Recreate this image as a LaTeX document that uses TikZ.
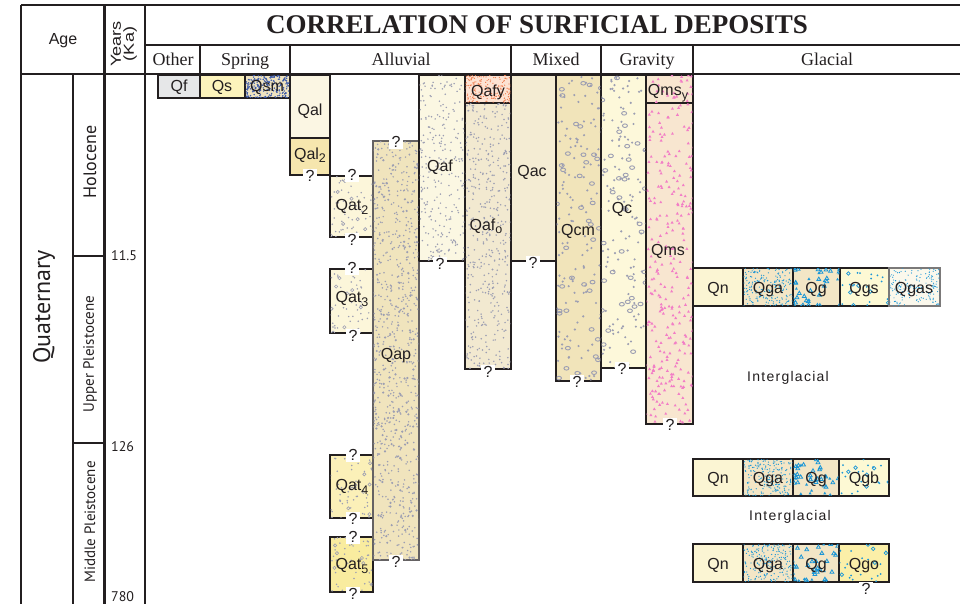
\documentclass[tikz,border=0pt]{standalone}
\usepackage{fontspec}
\setmainfont{Liberation Serif}
\setsansfont{Liberation Sans}
\newfontfamily\myr{PT Sans}
\definecolor{ink}{HTML}{231F20}
\definecolor{cQf}{HTML}{E6E7E8}
\definecolor{cQs}{HTML}{FCF3BC}
\definecolor{cQsm}{HTML}{EFE3C0}
\definecolor{cQal}{HTML}{FBF6E3}
\definecolor{cQalb}{HTML}{F6E6AE}
\definecolor{cQat}{HTML}{FCF6DA}
\definecolor{cQatf}{HTML}{FBF0B8}
\definecolor{cQatv}{HTML}{F9EC9F}
\definecolor{cQap}{HTML}{F0E4BD}
\definecolor{cQaf}{HTML}{FBF7E2}
\definecolor{cQafy}{HTML}{FDE3D3}
\definecolor{cQafo}{HTML}{F2E9D0}
\definecolor{cQac}{HTML}{F4ECD3}
\definecolor{cQcm}{HTML}{F1E4BA}
\definecolor{cQc}{HTML}{FDF8DA}
\definecolor{cQms}{HTML}{F8E6D0}
\definecolor{cQn}{HTML}{FBF5D3}
\definecolor{cQga}{HTML}{F3E6C6}
\definecolor{cQgs}{HTML}{FDF9D4}
\definecolor{cQgas}{HTML}{FBF8EC}
\definecolor{cQgo}{HTML}{FBEFA8}
\definecolor{dotg}{HTML}{9C9EB2}
\definecolor{gblue}{HTML}{1B96D6}
\definecolor{navy}{HTML}{3D5BA9}
\definecolor{orng}{HTML}{EE7D4F}
\definecolor{pinkt}{HTML}{F27DC6}
\newdimen\spxa \newdimen\spya \newdimen\spxb \newdimen\spyb
% node, count per 100 px^2, path style, path tail
\newcommand\speck[4]{%
 \pgfextractx{\spxa}{\pgfpointanchor{#1}{south west}}%
 \pgfextracty{\spya}{\pgfpointanchor{#1}{south west}}%
 \pgfextractx{\spxb}{\pgfpointanchor{#1}{north east}}%
 \pgfextracty{\spyb}{\pgfpointanchor{#1}{north east}}%
 \begin{scope}
 \clip (\spxa+0.6pt,\spya+0.6pt) rectangle (\spxb-0.6pt,\spyb-0.6pt);
 \pgfmathtruncatemacro\spn{((\spxb-\spxa)/10)*((\spyb-\spya)/10)*#2}%
 \foreach \k in {1,...,\spn}{%
   \pgfmathsetmacro\spx{\spxa+rnd*(\spxb-\spxa)}%
   \pgfmathsetmacro\spy{\spya+rnd*(\spyb-\spya)}%
   \path[#3] (\spx pt,\spy pt) #4;
 }%
 \end{scope}}
\newcommand\dep[6]{\node[box, minimum width={#4-#2}, minimum height={#5-#3}, #6] (#1) at ({(#2+#4)/2},{(#3+#5)/2}) {};}
\newcommand\lsub[1]{\raisebox{-0.4ex}{\fontsize{12.5}{12.5}\selectfont #1}}
\newcommand\sdot{circle[radius=0.85pt]}
\newcommand\bdot{circle[radius=1.2pt]}
\newcommand\ring{ellipse[x radius=2.5pt, y radius=1.8pt]}
\newcommand\sring{circle[radius=1.6pt]}
\newcommand\tri{++(0,1.6pt) -- ++(-1.5pt,-2.6pt) -- ++(3pt,0) -- cycle}
\newcommand\btri{++(0,2.1pt) -- ++(-1.9pt,-3.3pt) -- ++(3.8pt,0) -- cycle}
\begin{document}
\begin{tikzpicture}[x=1pt,y=-1pt,
  box/.style={draw=ink, line width=1.1pt, inner sep=0pt, outer sep=0pt},
  frame/.style={draw=ink, line width=1.6pt},
  lab/.style={font=\fontsize{16}{16}\selectfont\sffamily, text=ink, inner sep=0pt},
  qm/.style={fill=white, font=\fontsize{16}{16}\selectfont\sffamily, text=ink, inner sep=0.5pt, minimum width=14pt, minimum height=14pt},
  cat/.style={font=\fontsize{18}{18}\selectfont\rmfamily, text=ink, inner sep=0pt, anchor=base},
  era/.style={font=\myr, text=ink, rotate=90, inner sep=0pt},
  num/.style={font=\myr\fontsize{14}{14}\selectfont, text=ink, inner sep=0pt, anchor=west},
  igl/.style={font=\sffamily\addfontfeatures{LetterSpace=9}\fontsize{14}{14}\selectfont, text=ink, inner sep=0pt}]
\useasboundingbox (0,0) rectangle (960,604);
\fill[white] (0,0) rectangle (960,604);
\pgfmathsetseed{4242}

% ---------- deposit boxes ----------
\dep{Qf}{158}{75}{200}{98}{fill=cQf}
\dep{Qs}{200}{75}{245}{98}{fill=cQs}
\dep{Qsm}{245}{75}{290}{98}{fill=cQsm}
\dep{Qal}{290}{75}{330}{138}{fill=cQal}
\dep{Qalb}{290}{138}{330}{175}{fill=cQalb}
\dep{Qatb}{330}{176}{373}{237}{fill=cQat}
\dep{Qatc}{330}{269}{373}{333}{fill=cQat}
\dep{Qatd}{330}{455}{373}{518}{fill=cQatf}
\dep{Qate}{330}{537}{373}{592}{fill=cQatv}
\dep{Qap}{373}{141}{419}{560}{fill=cQap, draw=ink!70}
\dep{Qaf}{419}{75}{465}{261}{fill=cQaf}
\dep{Qafy}{465}{75}{511}{103}{fill=cQafy}
\dep{Qafo}{465}{103}{511}{369}{fill=cQafo}
\dep{Qac}{511}{75}{556}{261}{fill=cQac}
\dep{Qcm}{556}{75}{601}{381}{fill=cQcm}
\dep{Qc}{601}{75}{646}{368}{fill=cQc}
\dep{Qmsy}{646}{75}{693}{103}{fill=cQms}
\dep{Qms}{646}{103}{693}{424}{fill=cQms}
% glacial rows
\dep{Qna}{693}{268}{743}{306}{fill=cQn}
\dep{Qgaa}{743}{268}{793}{306}{fill=cQga}
\dep{Qgga}{793}{268}{840}{306}{fill=cQga}
\dep{Qgs}{840}{268}{889}{306}{fill=cQgs}
\dep{Qgas}{889}{268}{940}{306}{fill=cQgas, draw=ink!60}
\dep{Qnb}{693}{459}{743}{496}{fill=cQn}
\dep{Qgab}{743}{459}{793}{496}{fill=cQga}
\dep{Qggb}{793}{459}{839}{496}{fill=cQga}
\dep{Qgb}{839}{459}{889}{496}{fill=cQgs}
\dep{Qnc}{693}{544}{743}{582}{fill=cQn}
\dep{Qgac}{743}{544}{793}{582}{fill=cQga}
\dep{Qggc}{793}{544}{839}{582}{fill=cQga}
\dep{Qgo}{839}{544}{889}{582}{fill=cQgo}

% ---------- textures ----------
\speck{Qsm}{22}{fill=navy}{circle[radius=0.8pt]}
\speck{Qafy}{14}{fill=orng}{circle[radius=0.65pt]}
\foreach \g in {Qatb,Qatc,Qatd,Qate}{\speck{\g}{1.8}{fill=dotg}{\sdot}\speck{\g}{0.3}{draw=dotg, line width=0.6pt}{\sring}}
\speck{Qap}{3.6}{fill=dotg}{\sdot}
\speck{Qap}{0.6}{fill=dotg}{\bdot}
\speck{Qaf}{3}{fill=dotg}{\sdot}
\speck{Qafo}{3.6}{fill=dotg}{\sdot}
\speck{Qcm}{0.9}{fill=dotg}{\bdot}
\speck{Qcm}{0.3}{draw=dotg, line width=0.9pt}{\ring}
\speck{Qc}{0.9}{fill=dotg}{\bdot}
\speck{Qc}{0.3}{draw=dotg, line width=0.9pt}{\ring}
\speck{Qmsy}{1.8}{fill=pinkt}{\tri}
\speck{Qms}{1.8}{fill=pinkt}{\tri}
\foreach \g in {Qgaa,Qgab,Qgac}{\speck{\g}{11}{fill=gblue}{circle[radius=0.65pt]}}
\foreach \g in {Qgga,Qggb,Qggc}{\speck{\g}{1.6}{draw=gblue, line width=0.8pt}{\btri}\speck{\g}{0.6}{fill=gblue}{\tri}}
\foreach \g in {Qgs,Qgb,Qgo}{\speck{\g}{0.9}{fill=gblue}{circle[radius=1pt]}\speck{\g}{0.35}{draw=gblue, line width=0.7pt}{circle[radius=1.8pt]}}
\speck{Qgas}{9}{fill=gblue}{circle[radius=0.6pt]}

% ---------- labels ----------
\node[lab] (lQf) at (179,87) {Qf};
\node[lab] (lQs) at (222,87) {Qs};
\node[lab] (lQsm) at (267,87) {Qsm};
\node[lab] (lQal) at (310,111) {Qal};
\node[lab] (lQalb) at (310,155) {Qal\lsub{2}};
\node[lab] (lQatb) at (352,207) {Qat\lsub{2}};
\node[lab] (lQatc) at (352,299) {Qat\lsub{3}};
\node[lab] (lQatd) at (352,487) {Qat\lsub{4}};
\node[lab] (lQate) at (352,566) {Qat\lsub{5}};
\node[lab] (lQap) at (396,356) {Qap};
\node[lab] (lQaf) at (440,167) {Qaf};
\node[lab, anchor=base] (lQafy) at (488,97) {Qafy};
\node[lab] (lQafo) at (486,226) {Qaf\lsub{o}};
\node[lab] (lQac) at (532,172) {Qac};
\node[lab] (lQcm) at (578,231) {Qcm};
\node[lab] (lQc) at (622,209) {Qc};
\node[lab, anchor=base] (lQmsy) at (668,96) {Qms\lsub{y}};
\node[lab] (lQms) at (668,251) {Qms};
\foreach \r/\y in {a/293,b/483,c/569}{
  \node[lab, anchor=base] (lQn\r) at (718,\y) {Qn};
  \node[lab, anchor=base] (lQga\r) at (768,\y) {Qga};
  \node[lab, anchor=base] (lQg\r) at (816,\y) {Qg};
}
\node[lab, anchor=base] (lQgs) at (864,293) {Qgs};
\node[lab, anchor=base] (lQgas) at (914,293) {Qgas};
\node[lab, anchor=base] (lQgb) at (864,483) {Qgb};
\node[lab, anchor=base] (lQgo) at (864,569) {Qgo};
\node[igl] (ig1) at (788,378) {Interglacial};
\node[igl] (ig2) at (790,517) {Interglacial};

% ---------- question marks ----------
\node[qm] (q1) at (310,176) {?};
\node[qm] (q2) at (352,175) {?};
\node[qm] (q3) at (352,240) {?};
\node[qm] (q4) at (396,142) {?};
\node[qm] (q5) at (440,264) {?};
\node[qm] (q6) at (352,268) {?};
\node[qm] (q7) at (353,336) {?};
\node[qm] (q8) at (488,372) {?};
\node[qm] (q9) at (533,263) {?};
\node[qm] (q10) at (577,382) {?};
\node[qm] (q11) at (622,369) {?};
\node[qm] (q12) at (670,425) {?};
\node[qm] (q13) at (353,455) {?};
\node[qm] (q14) at (353,519) {?};
\node[qm] (q15) at (353,537) {?};
\node[qm] (q16) at (353,594) {?};
\node[qm] (q17) at (396,562) {?};
\node[qm] (q18) at (866,589) {?};

% ---------- frame ----------
\draw[frame] (21,5) -- (960,5);
\draw[frame] (145,45) -- (960,45);
\draw[frame, line width=2.2pt] (21,74) -- (960,74);
\draw[frame] (21,5) -- (21,604);
\draw[frame, line width=2.4pt] (104.5,5) -- (104.5,604);
\draw[frame] (145,5) -- (145,604);
\draw[frame] (73,74) -- (73,604);
\draw[frame, line width=2pt] (73,256) -- (104,256);
\draw[frame, line width=2pt] (73,443) -- (104,443);
\foreach \xx in {200,290,511,601,693}{\draw[frame, line width=1.3pt] (\xx,45) -- (\xx,74);}

% ---------- header texts ----------
\node[font=\fontsize{27}{27}\selectfont\rmfamily\bfseries, text=ink, inner sep=0] (title) at (537,25) {CORRELATION OF SURFICIAL DEPOSITS};
\node[cat] (cOther) at (173,66) {Other};
\node[cat] (cSpring) at (245,66) {Spring};
\node[cat] (cAll) at (401,66) {Alluvial};
\node[cat] (cMix) at (556,66) {Mixed};
\node[cat] (cGrav) at (647,66) {Gravity};
\node[cat] (cGlac) at (827,66) {Glacial};
\node[font=\sffamily\fontsize{16}{16}\selectfont, text=ink, inner sep=0] (age) at (63,41) {Age};
\node[font=\sffamily\fontsize{14.5}{13}\selectfont, text=ink, rotate=90, inner sep=0, align=center] (yrs) at (124,44) {\scalebox{1.25}[1]{Years}\\\scalebox{1.25}[1]{(Ka)}};

% ---------- left column ----------
\node[era, font=\myr\fontsize{24}{24}\selectfont] (quat) at (44,307) {Quaternary};
\node[era, font=\myr\fontsize{18}{18}\selectfont] (holo) at (90,162) {Holocene};
\node[era, font=\myr\fontsize{15}{15}\selectfont] (upl) at (90,354) {Upper Pleistocene};
\node[era, font=\myr\fontsize{15}{15}\selectfont] (mpl) at (90,522) {Middle Pleistocene};
\node[num] (n1) at (111,256) {11.5};
\node[num] (n2) at (111,447) {126};
\node[num] (n3) at (111,597) {780};
\end{tikzpicture}
\end{document}
